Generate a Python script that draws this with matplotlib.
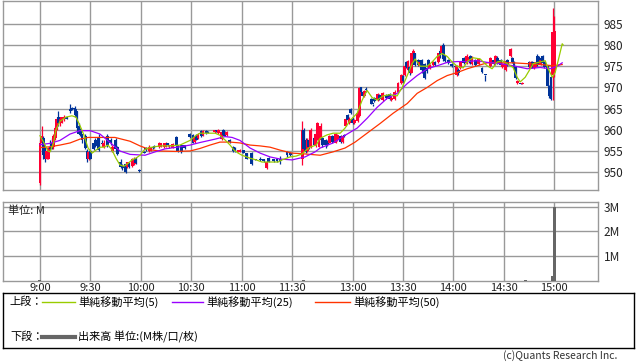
import matplotlib
matplotlib.use("Agg")
import matplotlib.pyplot as plt
import numpy as np

plt.rcParams['font.family'] = ['Noto Sans CJK JP', 'DejaVu Sans']

# 1-minute bars, slot number = minutes since 9:00, afternoon session (12:30) starts at slot 156
bar_t = [0, 1, 2, 3, 4, 5, 6, 7, 8, 9, 10, 11, 12, 13, 14, 16, 18, 19, 20, 21, 22, 23, 24, 25, 27, 28, 29, 30,
         32, 33, 35, 37, 38, 40, 42, 43, 45, 46, 48, 49, 51, 52, 53, 55, 56, 57, 59, 62, 63, 65, 66, 67, 68,
         71, 72, 74, 75, 76, 77, 79, 81, 82, 84, 86, 89, 91, 92, 93, 94, 96, 97, 99, 100, 104, 105, 106,
         108, 109, 110, 111, 113, 115, 116, 118, 119, 121, 123, 126, 128, 131, 133, 135, 136, 139, 141, 143,
         147, 149,
         156, 157, 158, 159, 160, 161, 163, 164, 165, 166, 167, 168, 170, 171, 172, 174, 176, 177, 179, 180,
         181, 182, 183, 184, 185, 186, 187, 189, 190, 191, 192, 193, 194, 197, 198, 199, 201, 202, 204, 206,
         208, 209, 211, 213, 215, 216, 217, 218, 219, 220, 221, 222, 223, 225, 226, 227, 229, 230, 231, 232,
         234, 235, 237, 238, 239, 240, 241, 243, 245, 247, 248, 249, 250, 252, 254, 255, 256, 257, 259, 261,
         263, 265, 268, 270, 271, 272, 274, 275, 277, 278, 280, 281, 282, 283, 284, 286, 287, 291, 292, 293,
         294, 295, 296, 297, 298, 299, 300, 302, 303, 304, 305, 306]
bar_o = [947.5, 957, 958, 955, 953, 953, 956, 957, 956, 958, 960.5, 963, 961.5, 962, 962.5, 963, 965, 965, 965,
         965, 964.5, 961, 960, 959, 958.5, 955, 953, 955,
         956.8, 957.5, 958, 957, 956, 958.5, 957.5, 955, 957.5, 956, 952.5, 951.5, 952, 951.3, 952, 951.5, 952,
         953.3, 950.5, 954.8, 955.8, 955, 955.2, 956, 956.1,
         956, 956.2, 956, 956.2, 957, 956.2, 955.8, 958.3, 956.4, 956.3, 956.3, 959, 958.7, 957.2, 958.5, 958,
         959.8, 958.7, 959.8, 959.5, 959.5, 959.8, 959.2,
         957.8, 960, 959.5, 958.7, 957.5, 956, 955.5, 954.8, 954.9, 955.2, 954.5, 954.5, 953, 953.2, 953, 951,
         953.3, 953, 953.2, 953.2, 954.7, 954.5,
         953, 960, 957.5, 955, 957.5, 956, 958, 956.2, 958, 956, 957.6, 958, 957.6, 957.2, 957, 958.5, 957,
         957.5, 958.5, 957.2,
         958.7, 961, 963.5, 961.5, 965, 962.5, 961.5, 962, 963.3, 970, 969, 968, 969.5, 967.3, 966, 967.5, 967,
         968.2, 967, 968.2,
         968.5, 967, 967.3, 969, 971, 972.8, 973, 976, 974, 974.7, 973.5, 976, 978, 976.5, 975, 976.5, 975.5,
         974.5, 976.5, 974.5,
         975.3, 976, 976, 978.5, 978, 980, 977.5, 976.5, 975.5, 975, 973, 974.2, 974.5, 977, 975.8, 976, 977.5,
         975.5, 976.5, 975.5,
         974.5, 973, 975, 976.5, 975.5, 977, 976.5, 974.8, 974, 976.5, 977.4, 977, 976, 974.7, 971, 971, 970.8,
         976, 974.6, 976,
         974.5, 975, 977.5, 977, 975.5, 977.5, 976, 975, 970.3, 972.4, 973, 974]
bar_h = [957.5, 961, 958.5, 956, 955.5, 956, 957.5, 958, 959, 961, 963, 964.5, 963, 963, 963.5, 963, 966.2, 965.3,
         965.2, 965.5, 964.5, 961.5, 960.5, 959, 959, 955.5, 955, 955.2,
         957, 958, 959, 957.5, 957.5, 959, 958, 956.3, 958, 956.2, 953, 952, 952.3, 952.5, 952.5, 953.3, 953.5,
         953.5, 950.7, 955, 956, 956.3, 956, 956.2, 956.5,
         957.2, 957, 957, 957.2, 957, 956.5, 956.8, 958.5, 956.5, 956.5, 956.5, 959.3, 959, 958.5, 959, 959.2,
         960, 960, 960, 959.7, 960, 960, 960.2,
         959.8, 960.2, 959.6, 959.8, 957.8, 956.2, 956, 955.3, 955.5, 955.3, 954.6, 954.7, 953.2, 953.5, 953.2,
         952.7, 953.5, 953.2, 953.3, 953.8, 955, 954.7,
         962, 960.5, 958, 958, 958, 960.5, 958.3, 959.5, 961.8, 958.3, 961.5, 958.3, 957.8, 957.5, 958.7, 958.7,
         959.3, 959, 958.8, 958.7,
         959, 962.7, 963.7, 963, 965.2, 963, 962.5, 964.3, 970, 970.2, 969.2, 969.5, 970, 967.5, 966, 967.8,
         968.7, 968.5, 969, 968.5,
         968.7, 968, 969.5, 971.2, 973.2, 973, 975.2, 976.3, 976.5, 975, 978.2, 979, 978.2, 976.7, 976.3, 976.8,
         975.7, 974.7, 976.8, 975.5,
         976.3, 976.2, 978.2, 979, 980, 980.5, 977.7, 976.6, 975.7, 975.2, 975.2, 974.5, 976.2, 977.2, 977.8,
         977.5, 977.7, 977.3, 976.7, 977,
         974.7, 973, 977.2, 976.8, 977.7, 977.3, 976.7, 975.8, 976.5, 976.8, 979.2, 977.2, 976.2, 974.9, 971.8,
         971.1, 971.2, 976.3, 976.2, 976.2,
         975.8, 976.3, 977.8, 977.3, 976.8, 977.7, 976.2, 975.3, 970.5, 972.6, 988.8, 986.8]
bar_l = [947, 956.5, 953, 952.5, 953, 953, 955, 955.5, 955.5, 957.5, 960, 961, 961, 961.5, 962, 962.5, 964, 964.7,
         964.7, 963, 960, 959, 958.5, 957, 955.5, 952.5, 952.8, 953,
         955.2, 956, 955, 956.3, 955.7, 956, 956.5, 954.8, 955, 954, 951, 950.5, 949.8, 951, 951, 951.3, 951.8,
         952, 950, 954.5, 955, 954.8, 955, 955.5, 955.8,
         955.8, 956, 955.8, 956, 956.2, 955.8, 955.6, 956.4, 954.8, 954.5, 955.5, 958, 956.8, 957, 957.5, 957.8,
         958.3, 958.5, 959, 959.2, 959.3, 959.5, 959,
         957.5, 958.7, 958.5, 958.5, 957, 954.8, 954.8, 954.7, 954.8, 954.5, 953, 951.7, 952.8, 952.7, 952.5,
         950.8, 952.3, 952.5, 952.5, 952, 953.6, 953.8,
         951.7, 955, 954.5, 954.8, 955.5, 955.8, 956.3, 956, 957.5, 956, 957.5, 956, 955.8, 956.2, 956.8, 957,
         956.8, 957.3, 957, 957,
         958.3, 960.8, 962, 961.3, 963.8, 961.3, 961.3, 961.8, 963, 968.5, 967.8, 967.8, 969, 966, 965.6, 966.5,
         966.8, 967, 966.8, 967.2,
         967, 966.8, 967, 968.8, 970.8, 971, 972.8, 974.5, 973.8, 973, 973.3, 975.5, 975, 975, 974.8, 973.5,
         972, 973.5, 974.5, 974.3,
         975, 975, 975.8, 977, 977.8, 976.3, 976, 975.5, 974.8, 974.5, 972.8, 973, 974.3, 975.5, 975.6, 975.8,
         975.5, 975.3, 975, 975.3,
         973.5, 971.6, 974.8, 975.3, 975.3, 975.5, 975, 974.5, 973.8, 975, 977.2, 975.8, 974, 972, 970.8, 970.8,
         970.7, 974.5, 974.5, 974.5,
         974.3, 974.8, 975, 976, 975.3, 975.5, 974.6, 970, 967.6, 967, 967, 972.5]
bar_c = [957, 958.5, 954, 953, 955, 955.7, 955.5, 956, 958.5, 960.5, 962.5, 961.5, 962.5, 963, 963, 962.5, 964.5,
         964.8, 965, 963.5, 960.5, 959, 958.8, 957.5, 955.7, 953, 954.8, 953.2,
         955.5, 956.2, 955.3, 956.6, 957, 956.3, 956.8, 956, 955.5, 954.2, 951.2, 951, 950, 952.3, 951.3, 953,
         953, 952.2, 950.2, 954.6, 955.2, 956, 955.8, 955.6, 955.9,
         957, 956.8, 957, 957, 956.3, 956.4, 956.6, 956.5, 955, 954.8, 955.8, 958.2, 957, 958.3, 957.7, 959,
         958.5, 959.7, 959.2, 959.3, 959.9, 959.6, 960,
         959.5, 958.8, 958.6, 959.5, 957.2, 955, 955, 955.2, 955.3, 954.6, 953.2, 952, 952.9, 952.8, 952.6,
         952.5, 952.5, 952.6, 952.7, 952.7, 954, 954,
         960, 955.5, 954.8, 957.6, 956, 960, 956.5, 959, 961.5, 958.3, 961, 956.5, 956.3, 956.5, 958.5, 957.2,
         959, 958.8, 957.2, 958.5,
         958.5, 962.5, 962.2, 962.5, 964, 961.6, 962.3, 964, 969.8, 968.8, 968, 969.2, 969.3, 966.2, 966, 966.7,
         968.5, 967.3, 968.7, 967.5,
         967.2, 967.5, 969, 971, 973, 971.5, 975, 974.8, 976.2, 973.3, 978, 978.5, 975.3, 975.2, 976, 974,
         972.3, 973.8, 974.8, 975.3,
         976, 975.2, 978, 977.3, 979.8, 976.6, 976.3, 975.7, 975, 974.7, 975, 973.3, 976, 975.7, 977.5, 977.2,
         975.8, 977, 975.3, 976.8,
         973.7, 973, 977, 975.6, 977.5, 975.8, 975.2, 975.6, 976.3, 975.3, 979, 976, 974.3, 972.2, 971.6,
         970.9, 971.1, 974.7, 976, 974.8,
         975.5, 976, 975.3, 976.2, 976.5, 975.8, 974.8, 970.3, 968, 967.3, 983, 983.3]

# moving averages (slot, value)
ma5_t = [0, 2, 4.8, 6, 8, 9.5, 11.9, 15.5, 19, 21.4, 23.8, 26.2, 28.6, 31, 33.3, 35.7, 38.1, 40.5, 42.9, 45.2,
         47.6, 50, 52.4, 54.8, 57.1, 59.5, 61.9, 64.3, 66.7, 71.4, 77.4, 83.3, 89.3, 92.9, 95.2, 101.2, 104.2,
         107.1, 110.1, 113.1, 115.5, 117.9, 120.2, 125, 128.6, 132.1, 136.9, 141.7, 144, 148.8, 152.4, 156,
         158.3, 160.7, 164.3, 166.7, 170.8, 174.4, 178.6, 181.5, 184.5, 188.7, 191.7, 194.6, 197.6, 200.6,
         204.2, 208.3, 212.5, 215.5, 218.5, 221.4, 223.2, 226.2, 230.4, 233.3, 236.3, 239.3, 242.3, 245.2,
         248.2, 251.8, 254.8, 257.7, 261.9, 266.1, 269, 272, 275, 278, 281.5, 283.9, 285.7, 288.7, 291.7,
         293.5, 297.6, 300.6, 302.4, 304.8, 306.5, 308.3, 310.7, 311.3]
ma5_v = [958.6, 957.2, 955, 954.8, 956.8, 960, 962, 963, 963.3, 963, 961, 958.7, 955.7, 954.5, 955.2, 955.9,
         955.9, 956.4, 955.2, 953.3, 951.7, 951.4, 952.1, 952.9, 953.3, 954, 955.2, 955.7, 955.9, 956.2, 956.2,
         956.4, 957.5, 958.7, 959.2, 959.2, 959.2, 958.7, 957.6, 956.4, 955.2, 954.5, 954, 953.3, 952.9, 952.4,
         952.4, 952.4, 952.9, 953.6, 953.8, 954.3, 955.2, 955.9, 956.4, 958, 958.8, 959.2, 959.2, 960.4, 962.2,
         963.9, 967, 969.3, 967.6, 967, 968, 968.3, 968, 970, 972.8, 975.6, 976.7, 975, 975, 976, 977.3, 978,
         977.3, 976, 975, 974.6, 976.3, 977, 976.7, 975.1, 974.4, 976, 976.3, 975.6, 974.7, 972.4, 971.3,
         972.4, 974.4, 975.6, 976, 976.3, 974.4, 972.4, 973.5, 976.3, 980.3, 980]
ma25_t = [0, 6, 11.9, 17.9, 23.8, 29.8, 35.7, 41.7, 47.6, 53.6, 62.5, 68.5, 74.4, 83.3, 89.3, 95.2, 104.2,
          110.1, 114.3, 119, 125, 131, 136.9, 142.9, 150, 157.7, 163.7, 166.7, 174.4, 181.5, 188.7, 194.6,
          200.6, 206.5, 212.5, 218.5, 224.4, 230.4, 236.3, 242.3, 248.2, 254.2, 260.1, 266.1, 273.8, 281.5,
          289.9, 297.6, 303.6, 307.7, 310.7]
ma25_v = [956.5, 956.8, 957.5, 959, 959.8, 959.8, 959, 957, 955, 954.2, 954, 954.8, 955.5, 956, 956.4, 957,
          957.8, 958.4, 958.2, 957.5, 955.7, 954.5, 953.6, 953.1, 952.9, 953.6, 954.8, 955.7, 956.9, 958.7,
          960.4, 962.7, 965.3, 967.4, 968.6, 970.9, 972.8, 974.4, 975.1, 975.9, 976.1, 976.1, 976.3, 975.9,
          975.6, 975.1, 974.4, 974.7, 974.4, 975, 975.8]
ma50_t = [0, 6, 11.9, 17.9, 23.8, 28.6, 35.7, 44.6, 53.6, 59.5, 65.5, 71.4, 80.4, 89.3, 95.2, 101.2, 107.1,
          113.1, 119, 125, 131, 136.9, 142.9, 150, 157.7, 166.7, 174.4, 181.5, 187.5, 194.6, 202.4, 210.1,
          218.5, 224.4, 230.4, 236.3, 242.3, 248.2, 254.2, 260.1, 266.1, 273.8, 281.5, 289.9, 297.6, 305.4,
          310.7]
ma50_v = [955.8, 956, 956.4, 956.9, 957.8, 958.2, 958.2, 958.2, 957.3, 956.2, 955.3, 955, 954.9, 955, 955.6,
          956.4, 957.1, 957.1, 956.9, 956.4, 956.2, 955.9, 955.2, 954.5, 954.3, 954, 954.8, 955.7, 957.1, 959.2,
          961.5, 963.9, 966.2, 968.6, 970, 971.6, 972.8, 973.5, 974.4, 975.1, 975.8, 975.8, 975.8, 975.6, 975.4,
          975.1, 975.4]

# volume (millions)
vol_t = [0, 157, 289, 305, 306]
vol_v = [0.02, 0.03, 0.04, 0.2, 3.0]

tick_pos = [0, 30, 60, 90, 120, 150, 186, 216, 246, 276, 306]
tick_lbl = ["9:00", "9:30", "10:00", "10:30", "11:00", "11:30", "13:00", "13:30", "14:00", "14:30", "15:00"]
price_ticks = [950, 955, 960, 965, 970, 975, 980, 985]

c_up, c_dn = "#FF0033", "#003399"
c5, c25, c50 = "#99CC00", "#9900FF", "#FF3300"
grid_c = "#999999"

fig = plt.figure(figsize=(6.38, 3.62), dpi=100)
ax = fig.add_axes([3/638, 1 - 190/362, 595/638, 189.5/362])
ax2 = fig.add_axes([3/638, 1 - 280.5/362, 595/638, 78.5/362])

o = np.array(bar_o); h = np.array(bar_h); l = np.array(bar_l); c = np.array(bar_c)
cols = np.where(c > o, c_up, c_dn)
ax.vlines(bar_t, l, h, colors=cols, lw=0.9, zorder=3)
ax.bar(bar_t, np.maximum(np.abs(c - o), 0.25), bottom=np.minimum(o, c), width=1.7,
       color=cols, linewidth=0, zorder=3)

ax.plot(ma50_t, ma50_v, color=c50, lw=0.9, zorder=4)
ax.plot(ma25_t, ma25_v, color=c25, lw=0.9, zorder=4)
ax.plot(ma5_t, ma5_v, color=c5, lw=0.9, zorder=5)

for a in (ax, ax2):
    a.set_xlim(-22, 332)
    a.set_xticks(tick_pos)
    a.grid(True, color=grid_c, lw=1)
    a.set_axisbelow(True)
    for s in a.spines.values():
        s.set_color(grid_c)
        s.set_linewidth(1)
    a.tick_params(axis='both', length=0)
    a.tick_params(axis='y', labelleft=False, labelright=True, pad=4, labelsize=8.5, colors='#222222')

ax.set_ylim(945.8, 990.5)
ax.set_yticks(price_ticks)
ax.tick_params(axis='x', labelbottom=False)

ax2.bar(vol_t, vol_v, width=1.8, color="#666666", zorder=3)
ax2.set_ylim(0, 3.2)
ax2.set_yticks([1, 2, 3])
ax2.set_yticklabels(["1M", "2M", "3M"])
ax2.set_xticklabels(tick_lbl)
ax2.tick_params(axis='x', labelsize=8, pad=2, colors='#222222')
ax2.text(0.008, 0.96, "単位: M", transform=ax2.transAxes, ha='left', va='top', fontsize=8, color='#222222')

# legend box
lg = fig.add_axes([3/638, 1 - 348/362, 631/638, 55/362])
lg.set_xlim(0, 1); lg.set_ylim(0, 1)
lg.set_xticks([]); lg.set_yticks([])
for s in lg.spines.values():
    s.set_color('black')
    s.set_linewidth(1)
fs = 8
lg.text(0.011, 0.84, "上段：", fontsize=fs, va='center')
lg.plot([0.062, 0.114], [0.84, 0.84], color=c5, lw=1)
lg.text(0.119, 0.84, "単純移動平均(5)", fontsize=fs, va='center')
lg.plot([0.268, 0.317], [0.84, 0.84], color=c25, lw=1)
lg.text(0.323, 0.84, "単純移動平均(25)", fontsize=fs, va='center')
lg.plot([0.494, 0.55], [0.84, 0.84], color=c50, lw=1)
lg.text(0.555, 0.84, "単純移動平均(50)", fontsize=fs, va='center')
lg.text(0.011, 0.2, "下段：", fontsize=fs, va='center')
lg.plot([0.062, 0.114], [0.2, 0.2], color="#666666", lw=3)
lg.text(0.119, 0.2, "出来高 単位:(M株/口/枚)", fontsize=fs, va='center')

fig.text(617/638, 1 - 356/362, "(c)Quants Research Inc.", ha='right', va='center', fontsize=7.5, color='#333333')

fig.savefig("out.png", dpi=100)
